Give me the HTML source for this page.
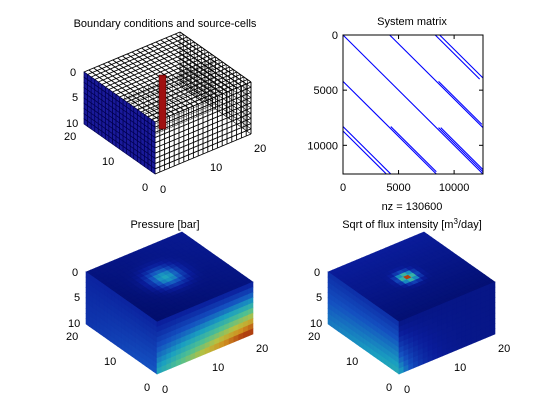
<!DOCTYPE html>
<html><head><meta charset="utf-8"><style>
html,body{margin:0;padding:0;background:#fff}
svg{display:block}
text{font-family:"Liberation Sans",sans-serif;font-size:11px;fill:#000}
</style></head><body>
<svg id="fig" width="560" height="420" viewBox="0 0 560 420" xmlns="http://www.w3.org/2000/svg">
<rect width="560" height="420" fill="#fff"/>
<text x="165" y="27" text-anchor="middle">Boundary conditions and source-cells</text>
<text x="412" y="25" text-anchor="middle">System matrix</text>
<text x="412" y="210" text-anchor="middle">nz = 130600</text>
<text x="165" y="228" text-anchor="middle">Pressure [bar]</text>
<text x="412" y="228" text-anchor="middle">Sqrt of flux intensity [m<tspan dy="-4" font-size="8">3</tspan><tspan dy="4">/day]</tspan></text>
<g id="p1"></g>
<g id="p2"></g>
<g id="p3"></g>
<g id="p4"></g>
</svg>
<script>
// Spy plot data: N, and diagonal segments [offset(col-row), rowStart, rowEnd]
const spyN = 12600;
const spyTicks = [0, 5000, 10000];
const spyTickLabels = ["0", "5000", "10000"];
const segOffsets = [0, 4200, 4400, 8300, 8700, -4200, -4000, -8300, -8700, 200, 400];
const segRowStart = [0, 0, 4200, 0, 0, 4200, 8300, 8300, 8700, 8400, 8400];
const segRowEnd = [12600, 8400, 8100, 4000, 3900, 12600, 12400, 12600, 12600, 12400, 12200];

const NS = "http://www.w3.org/2000/svg";
function mk(tag, attrs, parent){const e=document.createElementNS(NS,tag);for(const k in attrs)e.setAttribute(k,attrs[k]);parent.appendChild(e);return e;}

// spy
(function(){
  const g=document.getElementById('p2');
  const X0=343,Y0=35,W=140,H=139;
  const sx=v=>X0+v/spyN*W, sy=v=>Y0+v/spyN*H;
  for(let i=0;i<segOffsets.length;i++){
    const r0=segRowStart[i], r1=segRowEnd[i], o=segOffsets[i];
    const c0=r0+o, c1=r1+o;
    const l=mk('line',{x1:sx(c0),y1:sy(r0),x2:sx(Math.min(c1,spyN)),y2:sy(Math.min(c1,spyN)-o),stroke:'#0000ff','stroke-width':1.1},g);
    
    
  }
  const b=mk('rect',{x:X0,y:Y0,width:W,height:H,fill:'none',stroke:'#000','stroke-width':1},g);
  
  
  spyTicks.forEach((t,i)=>{
    mk('line',{x1:sx(t),y1:Y0+H,x2:sx(t),y2:Y0+H-4,stroke:'#000'},g);
    mk('line',{x1:sx(t),y1:Y0,x2:sx(t),y2:Y0+4,stroke:'#000'},g);
    mk('line',{x1:X0,y1:sy(t),x2:X0+4,y2:sy(t),stroke:'#000'},g);
    mk('line',{x1:X0+W,y1:sy(t),x2:X0+W-4,y2:sy(t),stroke:'#000'},g);
    const tx=mk('text',{x:sx(t),y:Y0+H+17,'text-anchor':'middle'},g);tx.textContent=spyTickLabels[i];
    
    
    const ty=mk('text',{x:X0-5,y:sy(t)+4,'text-anchor':'end'},g);ty.textContent=spyTickLabels[i];
    
    
  });
})();

// colormap
const cmStops=[[0,[0,10,96]],[0.15,[10,28,154]],[0.3,[20,80,192]],[0.45,[26,160,192]],[0.6,[80,192,144]],[0.75,[184,192,64]],[0.88,[208,144,32]],[1,[176,64,16]]];
function cmap(v){v=Math.max(0,Math.min(1,v));for(let i=1;i<cmStops.length;i++){if(v<=cmStops[i][0]){const a=cmStops[i-1],b=cmStops[i];const t=(v-a[0])/(b[0]-a[0]);const c=a[1].map((x,j)=>Math.round(x+(b[1][j]-x)*t));return 'rgb('+c.join(',')+')';}}return 'rgb(176,64,16)';}

function proj(ox,oy){
  const F=[155,122],R=[251,82],L=[84,72];
  return (x,y,z)=>[ox+F[0]+x/20*(R[0]-F[0])+y/20*(L[0]-F[0]), oy+F[1]+x/20*(R[1]-F[1])+y/20*(L[1]-F[1])+z/10*52];
}
function quad(g,P,pts,fill,stroke,sw){
  const s=pts.map(p=>P(p[0],p[1],p[2]).map(v=>v.toFixed(1)).join(',')).join(' ');
  return mk('polygon',{points:s,fill:fill,stroke:stroke,'stroke-width':sw},g);
}
function axisLabels(g,ox,oy){
  const L=[[70,76,'0'],[72,101,'5'],[66,127,'10'],[64,140,'20'],[102,165,'10'],[142,191,'0'],[160,193,'0'],[210,171,'10'],[254,152,'20']];
  L.forEach(a=>{const t=mk('text',{x:a[0]+ox,y:a[1]+oy},g);t.textContent=a[2];
    
    });
}
function colored(g,P,topF,leftF,rightF){
  for(let x=0;x<20;x++)for(let y=0;y<20;y++){const c=cmap(topF(x+0.5,y+0.5));quad(g,P,[[x,y,0],[x+1,y,0],[x+1,y+1,0],[x,y+1,0]],c,c,0.6);}
  for(let y=0;y<20;y++)for(let z=0;z<10;z++){const c=cmap(leftF(y+0.5,z+0.5));quad(g,P,[[0,y,z],[0,y+1,z],[0,y+1,z+1],[0,y,z+1]],c,c,0.6);}
  for(let x=0;x<20;x++)for(let z=0;z<10;z++){const c=cmap(rightF(x+0.5,z+0.5));quad(g,P,[[x,0,z],[x+1,0,z],[x+1,0,z+1],[x,0,z+1]],c,c,0.6);}
}

// boundary plot
(function(){
  const g=document.getElementById('p1');const P=proj(0,0);
  quad(g,P,[[0,0,0],[20,0,0],[20,20,0],[0,20,0]],'#fff','none',0);
  quad(g,P,[[0,0,0],[20,0,0],[20,0,10],[0,0,10]],'#fff','none',0);
  for(let i=0;i<=20;i++){
    mk('line',{x1:P(i,0,0)[0],y1:P(i,0,0)[1],x2:P(i,20,0)[0],y2:P(i,20,0)[1],stroke:'#000','stroke-width':0.9},g);
    mk('line',{x1:P(0,i,0)[0],y1:P(0,i,0)[1],x2:P(20,i,0)[0],y2:P(20,i,0)[1],stroke:'#000','stroke-width':0.9},g);
    mk('line',{x1:P(i,0,0)[0],y1:P(i,0,0)[1],x2:P(i,0,10)[0],y2:P(i,0,10)[1],stroke:'#000','stroke-width':0.9},g);
    mk('line',{x1:P(20,i,0)[0],y1:P(20,i,0)[1],x2:P(20,i,10)[0],y2:P(20,i,10)[1],stroke:'#000','stroke-width':0.6},g);
    mk('line',{x1:P(i,10,0)[0],y1:P(i,10,0)[1],x2:P(i,10,10)[0],y2:P(i,10,10)[1],stroke:'#000','stroke-width':0.4},g);
  }
  for(let z=0;z<=10;z++){
    mk('line',{x1:P(0,0,z)[0],y1:P(0,0,z)[1],x2:P(20,0,z)[0],y2:P(20,0,z)[1],stroke:'#000','stroke-width':0.9},g);
    mk('line',{x1:P(20,0,z)[0],y1:P(20,0,z)[1],x2:P(20,20,z)[0],y2:P(20,20,z)[1],stroke:'#000','stroke-width':0.6},g);
    mk('line',{x1:P(0,10,z)[0],y1:P(0,10,z)[1],x2:P(20,10,z)[0],y2:P(20,10,z)[1],stroke:'#000','stroke-width':0.4},g);
  }
  const red=mk('rect',{x:159,y:75,width:7,height:54,fill:'#a01010',stroke:'#400','stroke-width':0.6},g);
  
  
  for(let y=0;y<20;y++)for(let z=0;z<10;z++){quad(g,P,[[0,y,z],[0,y+1,z],[0,y+1,z+1],[0,y,z+1]],'#1a1a9a','#000050',0.7);}
  axisLabels(g,0,0);
})();

// pressure
(function(){
  const g=document.getElementById('p3');const P=proj(2,200);
  colored(g,P,
    (x,y)=>0.03+0.1*(x+y)/40+0.38*Math.exp(-((x-9.5)**2+(y-10.5)**2)/10),
    (y,z)=>0.17+0.1*(z/10)*(1-y/20)+0.05*z/10,
    (x,z)=>0.15+Math.pow(z/10,1.2)*(0.32+0.65*x/20));
  axisLabels(g,2,200);
})();

// flux
(function(){
  const g=document.getElementById('p4');const P=proj(244,200);
  colored(g,P,
    (x,y)=>{const d=(x-9.5)**2+(y-10.5)**2;return 0.05+0.1*y/20+0.6*Math.exp(-d/3)+(d<0.6?0.4:0);},
    (y,z)=>0.2+0.3*(z/10)*(1-0.4*y/20),
    (x,z)=>0.1+0.4*Math.pow(z/10,1.3)*Math.exp(-x/4));
  axisLabels(g,244,200);
})();
</script>
</body></html>
